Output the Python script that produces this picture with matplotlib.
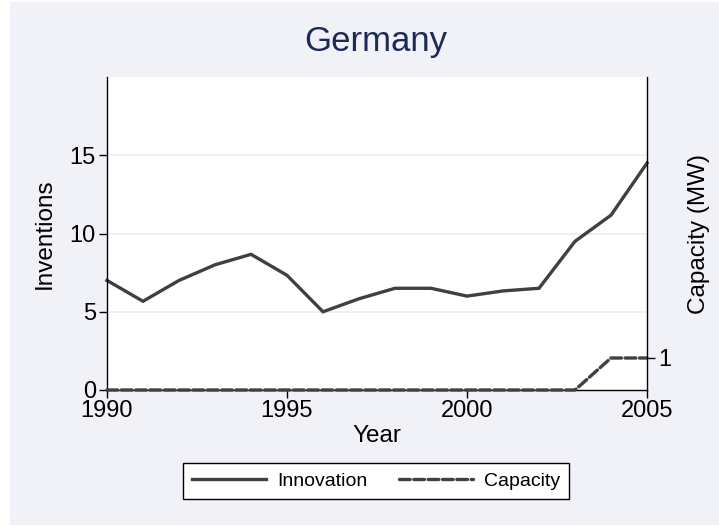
import numpy as np
import matplotlib
matplotlib.use('Agg')
from matplotlib import pyplot as plt
from matplotlib.patches import Rectangle

plt.rcParams['font.family'] = ['Liberation Sans', 'DejaVu Sans']

years = [1990, 1991, 1992, 1993, 1994, 1995, 1996, 1997, 1998, 1999,
         2000, 2001, 2002, 2003, 2004, 2005]
innovation = [7.0, 5.67, 7.0, 8.0, 8.67, 7.33, 5.0, 5.83, 6.5, 6.5,
              6.0, 6.33, 6.5, 9.5, 11.17, 14.5]
capacity = [0, 0, 0, 0, 0, 0, 0, 0, 0, 0, 0, 0, 0, 0, 1, 1]
xticks = [1990, 1995, 2000, 2005]
yticks = [0, 5, 10, 15]

W, H = 719, 527
fig = plt.figure(figsize=(W / 100, H / 100), dpi=100, facecolor='white')
# lavender graph region with a thin white margin
fig.patches.append(Rectangle((10 / W, 2 / H), (W - 10) / W, (H - 4) / H,
                             transform=fig.transFigure, facecolor='#f1f1f8',
                             edgecolor='none', zorder=-10))

ax = fig.add_axes([107 / W, (H - 390) / H, 540 / W, 313 / H])
ax.set_facecolor('white')
ax2 = ax.twinx()

col = '#404040'
l1, = ax.plot(years, innovation, color=col, lw=2.4, clip_on=False,
              solid_joinstyle='miter', label='Innovation')
l2, = ax2.plot(years, capacity, color=col, lw=2.4, clip_on=False,
               linestyle=(0, (3.2, 1.1)), dash_capstyle='round', label='Capacity')

ax.set_xlim(1990, 2005)
ax.set_ylim(0, 20)
ax2.set_ylim(0, 9.78)
ax.set_xticks(xticks)
ax.set_yticks(yticks)
ax2.set_yticks([1])
for v in yticks[1:]:
    ax.axhline(v, color='#e6eff1', lw=1.2, zorder=0)

for a in (ax, ax2):
    a.spines['top'].set_visible(False)
    for s in a.spines.values():
        s.set_linewidth(1.0)
ax.spines['right'].set_visible(False)
ax2.spines['left'].set_visible(False)
ax2.spines['bottom'].set_visible(False)

ax.tick_params(axis='both', labelsize=17, length=6, width=1, pad=2)
ax.tick_params(axis='x', pad=1.5)
ax2.tick_params(axis='y', labelsize=17, length=6, width=1, pad=2)

ax.set_ylabel('Inventions', fontsize=17.5, labelpad=10)
ax.set_xlabel('Year', fontsize=17.5, labelpad=2)
ax2.set_ylabel('Capacity (MW)', fontsize=17.5, labelpad=12)

fig.text(376 / W, 1 - 42 / H, 'Germany', fontsize=25, color='#1c2b55',
         ha='center', va='center')

leg = fig.legend([l1, l2], ['Innovation', 'Capacity'], loc='center',
                 bbox_to_anchor=(376 / W, 1 - 481 / H), ncol=2, fontsize=14,
                 frameon=True, fancybox=False, edgecolor='black', framealpha=1,
                 handlelength=3.8, columnspacing=1.6, handletextpad=0.6,
                 borderpad=0.45)
leg.get_frame().set_linewidth(1.0)

fig.savefig('out.png', dpi=100, facecolor=fig.get_facecolor())
